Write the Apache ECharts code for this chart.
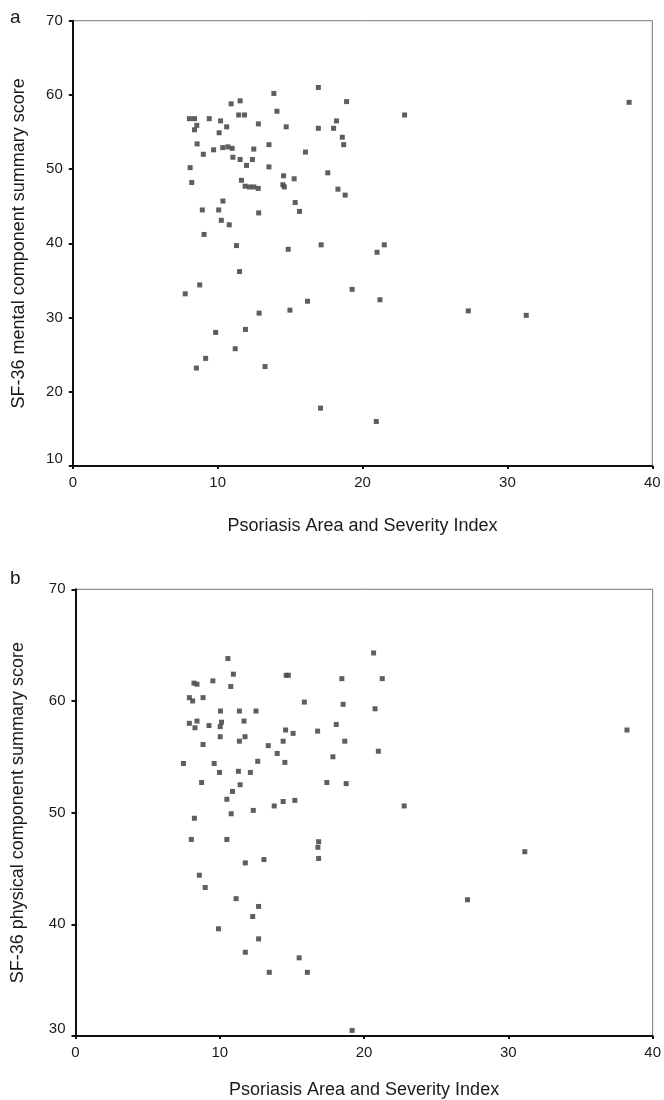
<!DOCTYPE html>
<html>
<head>
<meta charset="utf-8">
<script src="https://cdn.jsdelivr.net/npm/echarts@6/dist/echarts.min.js"></script>
<style>
html, body { margin: 0; padding: 0; background: #fff; }
#chart { width: 664px; height: 1100px; }
</style>
</head>
<body>
<div id="chart"></div>
<script>
// panel a: PASI vs SF-36 mental component summary score
var pasiA = [13.88, 14.09, 10.93, 11.55, 11.45, 11.85, 8.05, 8.4, 9.42, 10.2,
	10.62, 10.1, 8.56, 8.4, 12.81, 8.58, 9.01, 9.72, 10.35, 10.7,
	11.0, 12.49, 13.54, 11.05, 11.55, 12.4, 11.99, 13.54, 8.1, 8.21,
	11.64, 11.9, 12.2, 12.5, 12.8, 10.36, 8.94, 10.07, 12.83, 10.25,
	10.8, 9.06, 16.95, 18.9, 14.73, 18.2, 16.95, 18.0, 18.6, 18.7,
	22.9, 16.06, 14.55, 15.28, 14.5, 14.6, 17.6, 18.3, 18.8, 15.35,
	15.65, 11.3, 14.87, 17.14, 21.0, 21.5, 11.51, 7.76, 8.76, 19.28,
	21.2, 16.2, 12.86, 14.99, 11.92, 9.86, 11.21, 9.17, 8.53, 13.27,
	17.1, 20.95, 27.3, 31.3, 38.4];
var mcsA = [60.2, 57.8, 58.8, 59.2, 57.3, 57.3, 56.8, 56.8, 56.8, 56.5,
	55.7, 54.9, 55.9, 55.3, 56.1, 53.4, 52.0, 52.6, 52.9, 53.0,
	52.8, 52.7, 53.3, 51.6, 51.3, 51.3, 50.5, 50.3, 50.2, 48.2,
	48.5, 47.7, 47.6, 47.6, 47.4, 45.7, 44.5, 44.5, 44.1, 43.1,
	42.5, 41.2, 61.0, 59.1, 55.7, 56.5, 55.5, 55.5, 54.3, 53.3,
	57.3, 52.3, 49.1, 48.7, 47.9, 47.6, 49.5, 47.3, 46.5, 45.5,
	44.3, 39.7, 39.2, 39.8, 38.8, 39.8, 36.2, 33.2, 34.4, 33.8,
	32.4, 32.2, 30.6, 31.0, 28.4, 28.0, 25.8, 24.5, 23.2, 23.4,
	17.8, 16.0, 30.9, 30.3, 59.0];

// panel b: PASI vs SF-36 physical component summary score
var pasiB = [10.56, 10.94, 14.6, 14.75, 8.21, 8.42, 9.52, 10.76, 7.89, 8.12,
	8.84, 10.05, 11.36, 12.51, 11.68, 7.89, 8.42, 8.28, 9.25, 10.12,
	10.03, 10.03, 11.36, 11.75, 14.56, 15.08, 14.39, 13.36, 13.98, 14.51,
	8.84, 7.48, 9.61, 12.63, 9.98, 11.29, 12.12, 20.66, 18.46, 21.26,
	15.86, 18.55, 20.76, 18.07, 16.78, 18.66, 20.99, 17.84, 8.74, 11.41,
	10.88, 10.49, 10.79, 12.32, 13.77, 14.39, 15.2, 8.24, 8.03, 10.49,
	11.77, 13.06, 8.58, 8.99, 11.13, 12.69, 12.28, 9.91, 12.69, 11.77,
	13.43, 15.5, 16.07, 17.42, 18.76, 22.78, 16.85, 16.8, 16.85, 19.17,
	38.22, 31.14, 27.17];
var pcsB = [63.8, 62.4, 62.3, 62.3, 61.6, 61.5, 61.8, 61.3, 60.3, 60.0,
	60.3, 59.1, 59.1, 59.1, 58.2, 58.0, 58.2, 57.6, 57.8, 58.1,
	57.7, 56.8, 56.4, 56.8, 57.4, 57.1, 56.4, 56.0, 55.3, 54.5,
	56.1, 54.4, 54.4, 54.6, 53.6, 53.7, 53.6, 64.3, 62.0, 62.0,
	59.9, 59.7, 59.3, 57.9, 57.3, 56.4, 55.5, 55.0, 52.7, 52.5,
	51.9, 51.2, 49.9, 50.2, 50.6, 51.0, 51.1, 49.5, 47.6, 47.6,
	45.5, 45.8, 44.4, 43.3, 42.3, 41.6, 40.7, 39.6, 38.7, 37.5,
	35.7, 37.0, 35.7, 52.7, 52.6, 50.6, 47.4, 46.9, 45.9, 30.5,
	57.4, 46.5, 42.2];

var xTitle = 'Psoriasis Area and Severity Index';
var yTitleA = 'SF-36 mental component summary score';
var yTitleB = 'SF-36 physical component summary score';

function zip(xs, ys) {
	var res = [];
	for (var i = 0; i < xs.length; i++) {
		res.push([xs[i], ys[i]]);
	}
	return res;
}

var font = 'Liberation Sans';
var textColor = '#1a1a1a';

function xAxisCfg(gridIndex, gap) {
	return {
		type: 'value', gridIndex: gridIndex,
		min: 0, max: 40, interval: 10,
		name: xTitle, nameLocation: 'middle', nameGap: gap,
		nameTextStyle: { fontFamily: font, fontSize: 18, color: textColor },
		axisLine: { lineStyle: { color: '#111', width: 2 } },
		axisTick: { show: true, inside: false, length: 3, lineStyle: { color: '#111', width: 2 } },
		axisLabel: { margin: 9, fontFamily: font, fontSize: 15, color: textColor },
		splitLine: { show: false }
	};
}

function yAxisCfg(gridIndex, min, title, gap) {
	return {
		type: 'value', gridIndex: gridIndex,
		min: min, max: 70, interval: 10,
		name: title, nameLocation: 'middle', nameGap: gap,
		nameTextStyle: { fontFamily: font, fontSize: 18, color: textColor },
		axisLine: { lineStyle: { color: '#111', width: 2 } },
		axisTick: { show: true, inside: false, length: 4, lineStyle: { color: '#111', width: 2 } },
		axisLabel: { margin: 10, fontFamily: font, fontSize: 15, color: textColor, verticalAlignMinLabel: 'bottom' },
		splitLine: { show: false }
	};
}

function scatter(idx, data) {
	return {
		type: 'scatter', xAxisIndex: idx, yAxisIndex: idx,
		data: data,
		symbol: 'rect', symbolSize: 5,
		itemStyle: { color: '#4d4d4d', opacity: 0.9 },
		silent: true
	};
}

var myChart = echarts.init(document.getElementById('chart'), null, { renderer: 'canvas' });
var option = {
	backgroundColor: '#fff',
	animation: false,
	grid: [
		{ left: 72.8, top: 20.7, width: 579.5, height: 445.3, show: true, borderColor: '#777', borderWidth: 1 },
		{ left: 75.5, top: 589.3, width: 580.5, height: 447.4, show: true, borderColor: '#777', borderWidth: 1 }
	],
	graphic: [
		{ type: 'text', left: 10, top: 8, style: { text: 'a', fontFamily: font, fontSize: 19, fill: textColor } },
		{ type: 'text', left: 10, top: 569, style: { text: 'b', fontFamily: font, fontSize: 19, fill: textColor } }
	],
	xAxis: [xAxisCfg(0, 51), xAxisCfg(1, 45)],
	yAxis: [yAxisCfg(0, 10, yTitleA, 45), yAxisCfg(1, 30, yTitleB, 48)],
	series: [scatter(0, zip(pasiA, mcsA)), scatter(1, zip(pasiB, pcsB))]
};
myChart.setOption(option);
</script>
</body>
</html>
